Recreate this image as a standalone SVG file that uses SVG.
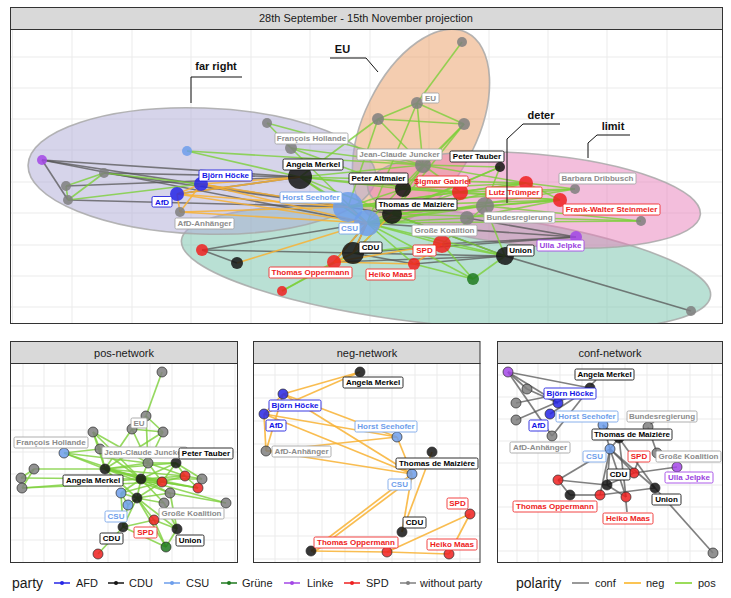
<svg xmlns="http://www.w3.org/2000/svg" width="731" height="598" viewBox="0 0 731 598">
<style>
text{font-family:"Liberation Sans",Arial,sans-serif}
.strip{fill:#d9d9d9;stroke:#333;stroke-width:1}
.st{font-size:11px;fill:#1a1a1a;text-anchor:middle}
.frame{fill:none;stroke:#333;stroke-width:1}
.grid line{stroke:#ebebeb;stroke-width:1}
.ell{stroke:#a8a8a8;stroke-width:1.6;stroke-opacity:.85;fill-opacity:.5}
.ep{stroke:#7ccf3a;stroke-opacity:.8}
.en{stroke:#f8b133;stroke-opacity:.85}
.ec{stroke:#555;stroke-opacity:.75}
.main line{stroke-width:1.6}
.sm line{stroke-width:1.7}
.sm .ec{stroke:#777}
.nA{fill:#2626e6}.nC{fill:#141414}.nS{fill:#6d9eeb}.nG{fill:#1f7a1f}.nL{fill:#a347e6}.nR{fill:#ee2020}.nN{fill:#7f7f7f}
.mn circle{fill-opacity:.85}
.sn circle{fill-opacity:.85;stroke:#2a2a2a;stroke-width:.7}
.L rect{fill:#fff;stroke-width:.9}
.L text{font-size:8px;font-weight:bold;text-anchor:middle}
.k rect{stroke:#1a1a1a}.k text{fill:#000}
.r rect{stroke:#f03030}.r text{fill:#ee1c1c}
.b rect{stroke:#2222e0}.b text{fill:#1515e6}
.c rect{stroke:#7aa7ea}.c text{fill:#6d9eeb}
.p rect{stroke:#a347e6}.p text{fill:#9a3fe0}
.g rect{stroke:#a6a6a6}.g text{fill:#8c8c8c}
.ann{fill:none;stroke:#111;stroke-width:1}
.at{font-size:11px;font-weight:bold;fill:#111;text-anchor:middle}
.lt{font-size:11px;fill:#1a1a1a}
.lh{font-size:14px;fill:#1a1a1a}
</style>
<defs>
<clipPath id="cm"><rect x="11" y="30" width="711" height="293"/></clipPath>
<clipPath id="cp"><rect x="11" y="364" width="226" height="198"/></clipPath>
<clipPath id="cn"><rect x="254" y="364" width="226" height="198"/></clipPath>
<clipPath id="cc"><rect x="498" y="364" width="224" height="198"/></clipPath>
</defs>
<rect width="731" height="598" fill="#fff"/>

<!-- MAIN PANEL -->
<rect class="strip" x="10.5" y="7.5" width="712" height="22"/>
<text class="st" x="366" y="22">28th September - 15th November projection</text>
<g class="grid" clip-path="url(#cm)">
<line x1="12.5" y1="30" x2="12.5" y2="323"/><line x1="72" y1="30" x2="72" y2="323"/><line x1="132" y1="30" x2="132" y2="323"/><line x1="191" y1="30" x2="191" y2="323"/><line x1="251" y1="30" x2="251" y2="323"/><line x1="310" y1="30" x2="310" y2="323"/><line x1="370" y1="30" x2="370" y2="323"/><line x1="429" y1="30" x2="429" y2="323"/><line x1="489" y1="30" x2="489" y2="323"/><line x1="548" y1="30" x2="548" y2="323"/><line x1="607" y1="30" x2="607" y2="323"/><line x1="667" y1="30" x2="667" y2="323"/>
<line x1="11" y1="57" x2="722" y2="57"/><line x1="11" y1="88" x2="722" y2="88"/><line x1="11" y1="119" x2="722" y2="119"/><line x1="11" y1="150" x2="722" y2="150"/><line x1="11" y1="182" x2="722" y2="182"/><line x1="11" y1="213" x2="722" y2="213"/><line x1="11" y1="245" x2="722" y2="245"/><line x1="11" y1="276" x2="722" y2="276"/><line x1="11" y1="307" x2="722" y2="307"/>
</g>
<g id="marks" clip-path="url(#cm)">
<ellipse id="mark-deter" class="ell" cx="0" cy="0" rx="266" ry="57" fill="#73c1a9" transform="translate(446 268) rotate(6)"/>
<ellipse id="mark-eu" class="ell" cx="0" cy="0" rx="104" ry="57" fill="#e99b61" transform="translate(421 126) rotate(-64)"/>
<ellipse id="mark-farright" class="ell" cx="0" cy="0" rx="174" ry="63" fill="#ada9d5" transform="translate(202 171) rotate(2)"/>
<ellipse id="mark-limit" class="ell" cx="0" cy="0" rx="167" ry="46" fill="#e77db9" transform="translate(534 200) rotate(5)"/>
</g>
<g id="main-edges" class="main" clip-path="url(#cm)">
<g class="ec">
<line x1="42" y1="160" x2="300" y2="177"/><line x1="42" y1="160" x2="348" y2="207"/><line x1="42" y1="160" x2="367" y2="223"/><line x1="42" y1="160" x2="68" y2="200"/><line x1="104" y1="173" x2="300" y2="177"/><line x1="104" y1="173" x2="348" y2="207"/><line x1="66" y1="186" x2="300" y2="177"/><line x1="68" y1="200" x2="348" y2="207"/><line x1="177" y1="194" x2="300" y2="177"/><line x1="202" y1="250" x2="367" y2="223"/><line x1="202" y1="250" x2="237" y2="263"/><line x1="202" y1="250" x2="353" y2="253"/><line x1="334" y1="262" x2="367" y2="223"/><line x1="353" y1="253" x2="367" y2="223"/><line x1="353" y1="253" x2="505" y2="256"/><line x1="353" y1="253" x2="576" y2="237"/><line x1="505" y1="256" x2="691" y2="311"/><line x1="367" y1="223" x2="576" y2="237"/><line x1="442" y1="244" x2="576" y2="237"/><line x1="414" y1="264" x2="505" y2="256"/><line x1="392" y1="214" x2="505" y2="256"/><line x1="467" y1="218" x2="576" y2="237"/><line x1="348" y1="207" x2="392" y2="214"/><line x1="334" y1="262" x2="505" y2="256"/><line x1="353" y1="253" x2="414" y2="264"/>
</g>
<g class="ep">
<line x1="462" y1="42" x2="417" y2="103"/><line x1="417" y1="103" x2="378" y2="119"/><line x1="417" y1="103" x2="464" y2="124"/><line x1="378" y1="119" x2="464" y2="124"/><line x1="417" y1="103" x2="423" y2="165"/><line x1="464" y1="124" x2="423" y2="165"/><line x1="378" y1="119" x2="423" y2="165"/><line x1="378" y1="119" x2="300" y2="177"/><line x1="378" y1="119" x2="348" y2="207"/><line x1="417" y1="103" x2="367" y2="223"/><line x1="464" y1="124" x2="403" y2="189"/><line x1="464" y1="124" x2="392" y2="214"/><line x1="267" y1="123" x2="423" y2="165"/><line x1="267" y1="123" x2="291" y2="148"/><line x1="291" y1="148" x2="423" y2="165"/><line x1="291" y1="148" x2="403" y2="189"/><line x1="291" y1="148" x2="367" y2="223"/><line x1="187" y1="151" x2="300" y2="177"/><line x1="187" y1="151" x2="423" y2="165"/><line x1="104" y1="173" x2="66" y2="186"/><line x1="66" y1="186" x2="68" y2="200"/><line x1="104" y1="173" x2="68" y2="200"/><line x1="68" y1="200" x2="201" y2="184"/><line x1="104" y1="173" x2="201" y2="184"/><line x1="300" y1="177" x2="423" y2="165"/><line x1="300" y1="177" x2="403" y2="189"/><line x1="300" y1="177" x2="367" y2="223"/><line x1="300" y1="177" x2="392" y2="214"/><line x1="300" y1="177" x2="460" y2="192"/><line x1="300" y1="177" x2="526" y2="183"/><line x1="423" y1="165" x2="500" y2="167"/><line x1="423" y1="165" x2="526" y2="183"/><line x1="423" y1="165" x2="460" y2="192"/><line x1="423" y1="165" x2="367" y2="223"/><line x1="423" y1="165" x2="392" y2="214"/><line x1="500" y1="167" x2="392" y2="214"/><line x1="500" y1="167" x2="367" y2="223"/><line x1="500" y1="167" x2="485" y2="206"/><line x1="348" y1="207" x2="460" y2="192"/><line x1="348" y1="207" x2="526" y2="183"/><line x1="348" y1="207" x2="560" y2="200"/><line x1="348" y1="207" x2="575" y2="189"/><line x1="367" y1="223" x2="526" y2="183"/><line x1="367" y1="223" x2="575" y2="189"/><line x1="367" y1="223" x2="641" y2="221"/><line x1="367" y1="223" x2="485" y2="206"/><line x1="367" y1="223" x2="467" y2="218"/><line x1="367" y1="223" x2="442" y2="244"/><line x1="367" y1="223" x2="505" y2="256"/><line x1="367" y1="223" x2="473" y2="279"/><line x1="367" y1="223" x2="414" y2="264"/><line x1="403" y1="189" x2="460" y2="192"/><line x1="403" y1="189" x2="526" y2="183"/><line x1="403" y1="189" x2="560" y2="200"/><line x1="392" y1="214" x2="460" y2="192"/><line x1="392" y1="214" x2="485" y2="206"/><line x1="392" y1="214" x2="641" y2="221"/><line x1="392" y1="214" x2="560" y2="200"/><line x1="460" y1="192" x2="526" y2="183"/><line x1="460" y1="192" x2="575" y2="189"/><line x1="460" y1="192" x2="560" y2="200"/><line x1="526" y1="183" x2="575" y2="189"/><line x1="526" y1="183" x2="560" y2="200"/><line x1="485" y1="206" x2="641" y2="221"/><line x1="485" y1="206" x2="560" y2="200"/><line x1="467" y1="218" x2="560" y2="200"/><line x1="442" y1="244" x2="505" y2="256"/><line x1="442" y1="244" x2="473" y2="279"/><line x1="353" y1="253" x2="442" y2="244"/><line x1="353" y1="253" x2="282" y2="291"/><line x1="334" y1="262" x2="282" y2="291"/><line x1="414" y1="264" x2="473" y2="279"/><line x1="505" y1="256" x2="473" y2="279"/><line x1="505" y1="256" x2="485" y2="206"/><line x1="442" y1="244" x2="485" y2="206"/><line x1="392" y1="214" x2="505" y2="256"/><line x1="353" y1="253" x2="392" y2="214"/><line x1="348" y1="207" x2="403" y2="189"/><line x1="300" y1="177" x2="348" y2="207"/>
</g>
<g class="en">
<line x1="300" y1="177" x2="201" y2="184"/><line x1="300" y1="177" x2="177" y2="194"/><line x1="201" y1="184" x2="177" y2="194"/><line x1="201" y1="184" x2="348" y2="207"/><line x1="201" y1="184" x2="367" y2="223"/><line x1="177" y1="194" x2="348" y2="207"/><line x1="177" y1="194" x2="367" y2="223"/><line x1="177" y1="194" x2="180" y2="212"/><line x1="201" y1="184" x2="180" y2="212"/><line x1="180" y1="212" x2="348" y2="207"/><line x1="180" y1="212" x2="367" y2="223"/><line x1="348" y1="207" x2="367" y2="223"/><line x1="392" y1="214" x2="353" y2="253"/><line x1="367" y1="223" x2="353" y2="253"/><line x1="237" y1="263" x2="367" y2="223"/><line x1="353" y1="253" x2="334" y2="262"/><line x1="334" y1="262" x2="414" y2="264"/><line x1="414" y1="264" x2="442" y2="244"/><line x1="334" y1="262" x2="442" y2="244"/><line x1="367" y1="223" x2="334" y2="262"/>
</g>
</g>
<g id="main-nodes" class="mn">
<g id="m-n1"><circle class="nN" cx="462" cy="42" r="5"/></g>
<g id="m-eu"><circle class="nN" cx="417" cy="103" r="6"/></g>
<g id="m-n2"><circle class="nN" cx="378" cy="119" r="6"/></g>
<g id="m-n3"><circle class="nN" cx="464" cy="124" r="6"/></g>
<g id="m-juncker"><circle class="nN" cx="423" cy="165" r="8"/></g>
<g id="m-tauber"><circle class="nC" cx="500" cy="167" r="5"/></g>
<g id="m-n4"><circle class="nN" cx="267" cy="123" r="5"/></g>
<g id="m-hollande"><circle class="nN" cx="291" cy="148" r="6"/></g>
<g id="m-n5"><circle class="nS" cx="187" cy="151" r="5"/></g>
<g id="m-n6"><circle class="nL" cx="42" cy="160" r="5"/></g>
<g id="m-n7"><circle class="nN" cx="104" cy="173" r="5"/></g>
<g id="m-n8"><circle class="nN" cx="66" cy="186" r="5"/></g>
<g id="m-n9"><circle class="nN" cx="68" cy="200" r="5"/></g>
<g id="m-hoecke"><circle class="nA" cx="201" cy="184" r="7"/></g>
<g id="m-afd"><circle class="nA" cx="177" cy="194" r="7"/></g>
<g id="m-afdanh"><circle class="nN" cx="180" cy="212" r="5"/></g>
<g id="m-merkel"><circle class="nC" cx="300" cy="177" r="12"/></g>
<g id="m-seehofer"><circle class="nS" cx="348" cy="207" r="15"/></g>
<g id="m-csu"><circle class="nS" cx="367" cy="223" r="13"/></g>
<g id="m-altmaier"><circle class="nC" cx="403" cy="189" r="8"/></g>
<g id="m-maiziere"><circle class="nC" cx="392" cy="214" r="10"/></g>
<g id="m-gabriel"><circle class="nR" cx="460" cy="192" r="8"/></g>
<g id="m-truemper"><circle class="nR" cx="526" cy="183" r="7"/></g>
<g id="m-steinmeier"><circle class="nR" cx="560" cy="200" r="7"/></g>
<g id="m-dribbusch"><circle class="nN" cx="575" cy="189" r="5"/></g>
<g id="m-n10"><circle class="nN" cx="641" cy="221" r="5"/></g>
<g id="m-bundesreg"><circle class="nN" cx="485" cy="206" r="9"/></g>
<g id="m-groko"><circle class="nN" cx="467" cy="218" r="7"/></g>
<g id="m-spd"><circle class="nR" cx="442" cy="244" r="9"/></g>
<g id="m-maas"><circle class="nR" cx="414" cy="264" r="6"/></g>
<g id="m-union"><circle class="nC" cx="505" cy="256" r="9"/></g>
<g id="m-jelpke"><circle class="nL" cx="576" cy="237" r="6"/></g>
<g id="m-n11"><circle class="nG" cx="473" cy="279" r="6"/></g>
<g id="m-n12"><circle class="nN" cx="691" cy="311" r="5"/></g>
<g id="m-cdu"><circle class="nC" cx="353" cy="253" r="11"/></g>
<g id="m-oppermann"><circle class="nR" cx="334" cy="262" r="7"/></g>
<g id="m-n13"><circle class="nR" cx="202" cy="250" r="6"/></g>
<g id="m-n14"><circle class="nC" cx="237" cy="263" r="6"/></g>
<g id="m-n15"><circle class="nR" cx="282" cy="291" r="5"/></g>
</g>
<g id="main-labels">
<g class="L g"><rect x="422" y="93" width="17" height="10" rx="1.5"/><text x="430.5" y="101">EU</text></g>
<g class="L g"><rect x="275" y="133" width="73" height="11" rx="1.5"/><text x="311.5" y="141.2">François Hollande</text></g>
<g class="L g"><rect x="357" y="149" width="85" height="11" rx="1.5"/><text x="399.5" y="157.2">Jean-Claude Juncker</text></g>
<g class="L k"><rect x="450" y="151" width="54" height="11" rx="1.5"/><text x="477" y="159.2">Peter Tauber</text></g>
<g class="L k"><rect x="283" y="159" width="60" height="11" rx="1.5"/><text x="313" y="167.2">Angela Merkel</text></g>
<g class="L b"><rect x="199" y="170" width="53" height="11" rx="1.5"/><text x="225.5" y="178.2">Björn Höcke</text></g>
<g class="L k"><rect x="349" y="173" width="59" height="11" rx="1.5"/><text x="378.5" y="181.2">Peter Altmaier</text></g>
<g class="L r"><rect x="417" y="176" width="51" height="11" rx="1.5"/><text x="442.5" y="184.2">Sigmar Gabriel</text></g>
<g class="L g"><rect x="559" y="173" width="77" height="11" rx="1.5"/><text x="597.5" y="181.2">Barbara Dribbusch</text></g>
<g class="L r"><rect x="486" y="187" width="56" height="11" rx="1.5"/><text x="514" y="195.2">Lutz Trümper</text></g>
<g class="L c"><rect x="280" y="192" width="62" height="11" rx="1.5"/><text x="311" y="200.2">Horst Seehofer</text></g>
<g class="L b"><rect x="152" y="196.5" width="20" height="10.5" rx="1.5"/><text x="162" y="204.6">AfD</text></g>
<g class="L k"><rect x="376" y="199" width="81" height="11" rx="1.5"/><text x="416.5" y="207.2">Thomas de Maizière</text></g>
<g class="L r"><rect x="563" y="204" width="97" height="11" rx="1.5"/><text x="611.5" y="212.2">Frank-Walter Steinmeier</text></g>
<g class="L g"><rect x="484" y="212" width="71" height="11" rx="1.5"/><text x="519.5" y="220.2">Bundesregierung</text></g>
<g class="L g"><rect x="175" y="218" width="59" height="11" rx="1.5"/><text x="204.5" y="226.2">AfD-Anhänger</text></g>
<g class="L c"><rect x="339" y="223" width="21" height="11" rx="1.5"/><text x="349.5" y="231.2">CSU</text></g>
<g class="L g"><rect x="412" y="225" width="65" height="11" rx="1.5"/><text x="444.5" y="233.2">Große Koalition</text></g>
<g class="L p"><rect x="537" y="240" width="47" height="11" rx="1.5"/><text x="560.5" y="248.2">Ulla Jelpke</text></g>
<g class="L k"><rect x="359" y="242" width="23" height="11" rx="1.5"/><text x="370.5" y="250.2">CDU</text></g>
<g class="L r"><rect x="413" y="245" width="23" height="11" rx="1.5"/><text x="424.5" y="253.2">SPD</text></g>
<g class="L k"><rect x="507" y="245" width="27" height="11" rx="1.5"/><text x="520.5" y="253.2">Union</text></g>
<g class="L r"><rect x="269" y="267" width="83" height="11" rx="1.5"/><text x="310.5" y="275.2">Thomas Oppermann</text></g>
<g class="L r"><rect x="366" y="269" width="49" height="11" rx="1.5"/><text x="390.5" y="277.2">Heiko Maas</text></g>
</g>
<g id="annotations">
<polyline class="ann" points="191,103 191,77 242,77"/>
<text class="at" x="216" y="69.5">far right</text>
<polyline class="ann" points="330,58 366,58 378,72"/>
<text class="at" x="342.5" y="53">EU</text>
<polyline class="ann" points="560,124 523,124 507,139 507,203"/>
<text class="at" x="541" y="119">deter</text>
<polyline class="ann" points="630,135 597,135 588,143 588,158"/>
<text class="at" x="613" y="130">limit</text>
</g>
<rect class="frame" x="10.5" y="29.5" width="712" height="294"/>

<!-- POS PANEL -->
<rect class="strip" x="10.5" y="341.5" width="227" height="22"/>
<text class="st" x="124" y="357">pos-network</text>
<g class="grid" clip-path="url(#cp)">
<line x1="23" y1="364" x2="23" y2="562"/><line x1="44" y1="364" x2="44" y2="562"/><line x1="65" y1="364" x2="65" y2="562"/><line x1="87" y1="364" x2="87" y2="562"/><line x1="108" y1="364" x2="108" y2="562"/><line x1="129" y1="364" x2="129" y2="562"/><line x1="150" y1="364" x2="150" y2="562"/><line x1="172" y1="364" x2="172" y2="562"/><line x1="193" y1="364" x2="193" y2="562"/><line x1="214" y1="364" x2="214" y2="562"/><line x1="235" y1="364" x2="235" y2="562"/>
<line x1="11" y1="386" x2="237" y2="386"/><line x1="11" y1="408" x2="237" y2="408"/><line x1="11" y1="430" x2="237" y2="430"/><line x1="11" y1="452" x2="237" y2="452"/><line x1="11" y1="474" x2="237" y2="474"/><line x1="11" y1="496" x2="237" y2="496"/><line x1="11" y1="518" x2="237" y2="518"/><line x1="11" y1="540" x2="237" y2="540"/>
</g>
<g id="pos-edges" class="sm ep">
<line x1="162" y1="372" x2="146" y2="416"/><line x1="146" y1="416" x2="132" y2="429"/><line x1="146" y1="416" x2="163" y2="432"/><line x1="132" y1="429" x2="163" y2="432"/><line x1="132" y1="429" x2="148" y2="463"/><line x1="146" y1="416" x2="148" y2="463"/><line x1="163" y1="432" x2="148" y2="463"/><line x1="163" y1="432" x2="105" y2="469"/><line x1="132" y1="429" x2="105" y2="469"/><line x1="93" y1="432" x2="100" y2="449"/><line x1="93" y1="432" x2="105" y2="469"/><line x1="93" y1="432" x2="148" y2="463"/><line x1="93" y1="432" x2="141" y2="479"/><line x1="64" y1="453" x2="100" y2="449"/><line x1="64" y1="453" x2="105" y2="469"/><line x1="64" y1="453" x2="148" y2="463"/><line x1="64" y1="453" x2="141" y2="479"/><line x1="100" y1="449" x2="105" y2="469"/><line x1="100" y1="449" x2="141" y2="479"/><line x1="34" y1="469" x2="21" y2="478"/><line x1="34" y1="469" x2="22" y2="488"/><line x1="34" y1="469" x2="105" y2="469"/><line x1="21" y1="478" x2="141" y2="479"/><line x1="22" y1="488" x2="141" y2="479"/><line x1="22" y1="488" x2="162" y2="482"/><line x1="105" y1="469" x2="148" y2="463"/><line x1="105" y1="469" x2="176" y2="463"/><line x1="105" y1="469" x2="141" y2="479"/><line x1="105" y1="469" x2="162" y2="482"/><line x1="105" y1="469" x2="185" y2="476"/><line x1="105" y1="469" x2="198" y2="488"/><line x1="105" y1="469" x2="170" y2="493"/><line x1="105" y1="469" x2="137" y2="498"/><line x1="148" y1="463" x2="176" y2="463"/><line x1="148" y1="463" x2="141" y2="479"/><line x1="148" y1="463" x2="162" y2="482"/><line x1="148" y1="463" x2="185" y2="476"/><line x1="176" y1="463" x2="141" y2="479"/><line x1="176" y1="463" x2="185" y2="476"/><line x1="176" y1="463" x2="162" y2="482"/><line x1="176" y1="463" x2="202" y2="479"/><line x1="141" y1="479" x2="162" y2="482"/><line x1="141" y1="479" x2="185" y2="476"/><line x1="141" y1="479" x2="198" y2="488"/><line x1="141" y1="479" x2="137" y2="498"/><line x1="141" y1="479" x2="170" y2="493"/><line x1="141" y1="479" x2="164" y2="503"/><line x1="141" y1="479" x2="202" y2="479"/><line x1="162" y1="482" x2="185" y2="476"/><line x1="162" y1="482" x2="198" y2="488"/><line x1="162" y1="482" x2="137" y2="498"/><line x1="185" y1="476" x2="202" y2="479"/><line x1="185" y1="476" x2="198" y2="488"/><line x1="121" y1="493" x2="137" y2="498"/><line x1="121" y1="493" x2="141" y2="479"/><line x1="121" y1="493" x2="162" y2="482"/><line x1="137" y1="498" x2="170" y2="493"/><line x1="137" y1="498" x2="164" y2="503"/><line x1="137" y1="498" x2="154" y2="520"/><line x1="137" y1="498" x2="123" y2="527"/><line x1="137" y1="498" x2="177" y2="529"/><line x1="137" y1="498" x2="166" y2="547"/><line x1="170" y1="493" x2="226" y2="503"/><line x1="141" y1="479" x2="226" y2="503"/><line x1="128" y1="505" x2="123" y2="527"/><line x1="128" y1="505" x2="137" y2="498"/><line x1="154" y1="520" x2="123" y2="527"/><line x1="154" y1="520" x2="177" y2="529"/><line x1="154" y1="520" x2="166" y2="547"/><line x1="177" y1="529" x2="166" y2="547"/><line x1="123" y1="527" x2="166" y2="547"/><line x1="123" y1="527" x2="98" y2="554"/><line x1="164" y1="503" x2="177" y2="529"/><line x1="170" y1="493" x2="177" y2="529"/><line x1="121" y1="493" x2="123" y2="527"/><line x1="121" y1="493" x2="128" y2="505"/>
</g>
<g id="pos-nodes" class="sn">
<g id="p-n1"><circle class="nN" cx="162" cy="372" r="5"/></g>
<g id="p-eu"><circle class="nN" cx="146" cy="416" r="5"/></g>
<g id="p-n3"><circle class="nN" cx="132" cy="429" r="5"/></g>
<g id="p-n4"><circle class="nN" cx="163" cy="432" r="5"/></g>
<g id="p-n5"><circle class="nN" cx="93" cy="432" r="5"/></g>
<g id="p-n6"><circle class="nS" cx="64" cy="453" r="5"/></g>
<g id="p-hollande"><circle class="nN" cx="100" cy="449" r="5"/></g>
<g id="p-juncker"><circle class="nN" cx="148" cy="463" r="5"/></g>
<g id="p-tauber"><circle class="nC" cx="176" cy="463" r="5"/></g>
<g id="p-merkel"><circle class="nC" cx="105" cy="469" r="5"/></g>
<g id="p-n11"><circle class="nN" cx="34" cy="469" r="5"/></g>
<g id="p-n12"><circle class="nN" cx="21" cy="478" r="5"/></g>
<g id="p-n13"><circle class="nN" cx="22" cy="488" r="5"/></g>
<g id="p-n14"><circle class="nC" cx="141" cy="479" r="5"/></g>
<g id="p-n15"><circle class="nR" cx="162" cy="482" r="5"/></g>
<g id="p-n16"><circle class="nR" cx="185" cy="476" r="5"/></g>
<g id="p-n17"><circle class="nN" cx="202" cy="479" r="5"/></g>
<g id="p-n18"><circle class="nR" cx="198" cy="488" r="5"/></g>
<g id="p-n19"><circle class="nS" cx="121" cy="493" r="5"/></g>
<g id="p-n20"><circle class="nC" cx="137" cy="498" r="5"/></g>
<g id="p-n21"><circle class="nN" cx="170" cy="493" r="5"/></g>
<g id="p-n22"><circle class="nN" cx="164" cy="503" r="5"/></g>
<g id="p-n23"><circle class="nN" cx="226" cy="503" r="5"/></g>
<g id="p-csu"><circle class="nS" cx="128" cy="505" r="5"/></g>
<g id="p-spd"><circle class="nR" cx="154" cy="520" r="5"/></g>
<g id="p-cdu"><circle class="nC" cx="123" cy="527" r="5"/></g>
<g id="p-union"><circle class="nC" cx="177" cy="529" r="5"/></g>
<g id="p-n28"><circle class="nG" cx="166" cy="547" r="5"/></g>
<g id="p-n29"><circle class="nR" cx="98" cy="554" r="5"/></g>
</g>
<g id="pos-labels">
<g class="L g"><rect x="131" y="418" width="16" height="10" rx="1.5"/><text x="139" y="426">EU</text></g>
<g class="L g"><rect x="14" y="437" width="74" height="11" rx="1.5"/><text x="51" y="445.2">François Hollande</text></g>
<g class="L g"><rect x="102" y="447" width="85" height="11" rx="1.5"/><text x="144.5" y="455.2">Jean-Claude Juncker</text></g>
<g class="L k"><rect x="179" y="448" width="54" height="11" rx="1.5"/><text x="206" y="456.2">Peter Tauber</text></g>
<g class="L k"><rect x="63" y="475" width="60" height="11" rx="1.5"/><text x="93" y="483.2">Angela Merkel</text></g>
<g class="L g"><rect x="159" y="508" width="65" height="11" rx="1.5"/><text x="191.5" y="516.2">Große Koalition</text></g>
<g class="L c"><rect x="105" y="511" width="22" height="11" rx="1.5"/><text x="116" y="519.2">CSU</text></g>
<g class="L r"><rect x="134" y="527" width="23" height="11" rx="1.5"/><text x="145.5" y="535.2">SPD</text></g>
<g class="L k"><rect x="100" y="533" width="23" height="11" rx="1.5"/><text x="111.5" y="541.2">CDU</text></g>
<g class="L k"><rect x="176" y="535" width="28" height="11" rx="1.5"/><text x="190" y="543.2">Union</text></g>
</g>
<rect class="frame" x="10.5" y="363.5" width="227" height="199"/>

<!-- NEG PANEL -->
<rect class="strip" x="253.5" y="341.5" width="226.5" height="22"/>
<text class="st" x="367" y="357">neg-network</text>
<g class="grid" clip-path="url(#cn)">
<line x1="275" y1="364" x2="275" y2="562"/><line x1="298" y1="364" x2="298" y2="562"/><line x1="322" y1="364" x2="322" y2="562"/><line x1="345" y1="364" x2="345" y2="562"/><line x1="368" y1="364" x2="368" y2="562"/><line x1="392" y1="364" x2="392" y2="562"/><line x1="415" y1="364" x2="415" y2="562"/><line x1="437" y1="364" x2="437" y2="562"/><line x1="460" y1="364" x2="460" y2="562"/>
<line x1="254" y1="375" x2="480" y2="375"/><line x1="254" y1="398" x2="480" y2="398"/><line x1="254" y1="421" x2="480" y2="421"/><line x1="254" y1="444" x2="480" y2="444"/><line x1="254" y1="467" x2="480" y2="467"/><line x1="254" y1="490" x2="480" y2="490"/><line x1="254" y1="513" x2="480" y2="513"/><line x1="254" y1="536" x2="480" y2="536"/><line x1="254" y1="559" x2="480" y2="559"/>
</g>
<g id="neg-edges" class="sm en">
<line x1="360" y1="372" x2="283" y2="394"/><line x1="360" y1="372" x2="264" y2="414"/><line x1="283" y1="394" x2="264" y2="414"/><line x1="283" y1="394" x2="397" y2="437"/><line x1="283" y1="394" x2="412" y2="474"/><line x1="264" y1="414" x2="397" y2="437"/><line x1="264" y1="414" x2="412" y2="474"/><line x1="264" y1="414" x2="266" y2="451"/><line x1="283" y1="394" x2="266" y2="451"/><line x1="266" y1="451" x2="397" y2="437"/><line x1="266" y1="451" x2="412" y2="474"/><line x1="397" y1="437" x2="412" y2="474"/><line x1="432" y1="452" x2="402" y2="532"/><line x1="412" y1="474" x2="402" y2="532"/><line x1="412" y1="474" x2="311" y2="551" stroke-width="2.6"/><line x1="414" y1="477" x2="313" y2="553"/><line x1="387" y1="552" x2="449" y2="554"/><line x1="387" y1="552" x2="470" y2="514"/><line x1="449" y1="554" x2="470" y2="514"/><line x1="311" y1="551" x2="387" y2="552"/>
</g>
<g id="neg-nodes" class="sn">
<g id="n-merkel"><circle class="nC" cx="360" cy="372" r="5"/></g>
<g id="n-hoecke"><circle class="nA" cx="283" cy="394" r="5"/></g>
<g id="n-afd"><circle class="nA" cx="264" cy="414" r="5"/></g>
<g id="n-seehofer"><circle class="nS" cx="397" cy="437" r="5"/></g>
<g id="n-afdanh"><circle class="nN" cx="266" cy="451" r="5"/></g>
<g id="n-maiziere"><circle class="nC" cx="432" cy="452" r="5"/></g>
<g id="n-csu"><circle class="nS" cx="412" cy="474" r="5"/></g>
<g id="n-spd"><circle class="nR" cx="470" cy="514" r="5"/></g>
<g id="n-cdu"><circle class="nC" cx="402" cy="532" r="5"/></g>
<g id="n-n10"><circle class="nC" cx="311" cy="551" r="5"/></g>
<g id="n-oppermann"><circle class="nR" cx="387" cy="552" r="5"/></g>
<g id="n-maas"><circle class="nR" cx="449" cy="554" r="5"/></g>
</g>
<g id="neg-labels">
<g class="L k"><rect x="343" y="377" width="60" height="11" rx="1.5"/><text x="373" y="385.2">Angela Merkel</text></g>
<g class="L b"><rect x="269" y="400" width="52" height="11" rx="1.5"/><text x="295" y="408.2">Björn Höcke</text></g>
<g class="L b"><rect x="266" y="420" width="20" height="11" rx="1.5"/><text x="276" y="428.2">AfD</text></g>
<g class="L c"><rect x="355" y="421" width="62" height="11" rx="1.5"/><text x="386" y="429.2">Horst Seehofer</text></g>
<g class="L g"><rect x="272" y="446" width="59" height="11" rx="1.5"/><text x="301.5" y="454.2">AfD-Anhänger</text></g>
<g class="L k"><rect x="396" y="458" width="82" height="11" rx="1.5"/><text x="437" y="466.2">Thomas de Maizière</text></g>
<g class="L c"><rect x="388" y="479" width="23" height="11" rx="1.5"/><text x="399.5" y="487.2">CSU</text></g>
<g class="L r"><rect x="447" y="498" width="21" height="11" rx="1.5"/><text x="457.5" y="506.2">SPD</text></g>
<g class="L k"><rect x="403" y="517" width="23" height="11" rx="1.5"/><text x="414.5" y="525.2">CDU</text></g>
<g class="L r"><rect x="314" y="537" width="84" height="11" rx="1.5"/><text x="356" y="545.2">Thomas Oppermann</text></g>
<g class="L r"><rect x="427" y="539" width="50" height="11" rx="1.5"/><text x="452" y="547.2">Heiko Maas</text></g>
</g>
<rect class="frame" x="253.5" y="363.5" width="226.5" height="199"/>

<!-- CONF PANEL -->
<rect class="strip" x="497.5" y="341.5" width="225" height="22"/>
<text class="st" x="610" y="357">conf-network</text>
<g class="grid" clip-path="url(#cc)">
<line x1="517" y1="364" x2="517" y2="562"/><line x1="538" y1="364" x2="538" y2="562"/><line x1="560" y1="364" x2="560" y2="562"/><line x1="582" y1="364" x2="582" y2="562"/><line x1="603" y1="364" x2="603" y2="562"/><line x1="625" y1="364" x2="625" y2="562"/><line x1="647" y1="364" x2="647" y2="562"/><line x1="668" y1="364" x2="668" y2="562"/><line x1="690" y1="364" x2="690" y2="562"/><line x1="712" y1="364" x2="712" y2="562"/>
<line x1="498" y1="375" x2="722" y2="375"/><line x1="498" y1="397" x2="722" y2="397"/><line x1="498" y1="419" x2="722" y2="419"/><line x1="498" y1="441" x2="722" y2="441"/><line x1="498" y1="463" x2="722" y2="463"/><line x1="498" y1="485" x2="722" y2="485"/><line x1="498" y1="507" x2="722" y2="507"/><line x1="498" y1="529" x2="722" y2="529"/><line x1="498" y1="551" x2="722" y2="551"/>
</g>
<g id="conf-edges" class="sm ec">
<line x1="508" y1="372" x2="590" y2="388"/><line x1="508" y1="372" x2="527" y2="389"/><line x1="508" y1="372" x2="558" y2="403"/><line x1="508" y1="372" x2="552" y2="436"/><line x1="590" y1="388" x2="516" y2="403"/><line x1="590" y1="388" x2="516" y2="420"/><line x1="590" y1="388" x2="552" y2="436"/><line x1="590" y1="388" x2="550" y2="414"/><line x1="527" y1="389" x2="558" y2="403"/><line x1="603" y1="425" x2="610" y2="449"/><line x1="603" y1="425" x2="619" y2="438"/><line x1="619" y1="438" x2="610" y2="449"/><line x1="648" y1="427" x2="657" y2="453"/><line x1="610" y1="449" x2="558" y2="480"/><line x1="610" y1="449" x2="607" y2="485"/><line x1="610" y1="449" x2="634" y2="473"/><line x1="610" y1="449" x2="626" y2="497"/><line x1="610" y1="449" x2="655" y2="488"/><line x1="610" y1="449" x2="600" y2="495"/><line x1="558" y1="480" x2="570" y2="495"/><line x1="558" y1="480" x2="607" y2="485"/><line x1="600" y1="495" x2="655" y2="488"/><line x1="607" y1="485" x2="626" y2="497"/><line x1="634" y1="473" x2="677" y2="467"/><line x1="655" y1="488" x2="713" y2="553"/><line x1="619" y1="438" x2="655" y2="488"/><line x1="619" y1="438" x2="626" y2="497"/><line x1="607" y1="485" x2="634" y2="473"/><line x1="570" y1="495" x2="600" y2="495"/>
<line x1="596" y1="380" x2="591" y2="385"/><line x1="638" y1="462" x2="635" y2="469"/><line x1="627" y1="512" x2="626" y2="502"/><line x1="654" y1="422" x2="650" y2="424"/>
</g>
<g id="conf-nodes" class="sn">
<g id="c-n1"><circle class="nL" cx="508" cy="372" r="5"/></g>
<g id="c-merkel"><circle class="nC" cx="590" cy="388" r="5"/></g>
<g id="c-n3"><circle class="nN" cx="527" cy="389" r="5"/></g>
<g id="c-hoecke"><circle class="nA" cx="558" cy="403" r="5"/></g>
<g id="c-n5"><circle class="nN" cx="516" cy="403" r="5"/></g>
<g id="c-afd"><circle class="nA" cx="550" cy="414" r="5"/></g>
<g id="c-n7"><circle class="nN" cx="516" cy="420" r="5"/></g>
<g id="c-seehofer"><circle class="nS" cx="603" cy="425" r="5"/></g>
<g id="c-bundesreg"><circle class="nN" cx="648" cy="427" r="5"/></g>
<g id="c-afdanh"><circle class="nN" cx="552" cy="436" r="5"/></g>
<g id="c-maiziere"><circle class="nC" cx="619" cy="438" r="5"/></g>
<g id="c-csu"><circle class="nS" cx="610" cy="449" r="5"/></g>
<g id="c-groko"><circle class="nN" cx="657" cy="453" r="5"/></g>
<g id="c-jelpke"><circle class="nL" cx="677" cy="467" r="5"/></g>
<g id="c-spd"><circle class="nR" cx="634" cy="473" r="5"/></g>
<g id="c-n16"><circle class="nR" cx="558" cy="480" r="5"/></g>
<g id="c-cdu"><circle class="nC" cx="607" cy="485" r="5"/></g>
<g id="c-union"><circle class="nC" cx="655" cy="488" r="5"/></g>
<g id="c-n19"><circle class="nC" cx="570" cy="495" r="5"/></g>
<g id="c-oppermann"><circle class="nR" cx="600" cy="495" r="5"/></g>
<g id="c-maas"><circle class="nR" cx="626" cy="497" r="5"/></g>
<g id="c-n22"><circle class="nN" cx="713" cy="553" r="5"/></g>
</g>
<g id="conf-labels">
<g class="L k"><rect x="575" y="369" width="59" height="11" rx="1.5"/><text x="604.5" y="377.2">Angela Merkel</text></g>
<g class="L b"><rect x="544" y="388" width="52" height="11" rx="1.5"/><text x="570" y="396.2">Björn Höcke</text></g>
<g class="L c"><rect x="556" y="411" width="62" height="11" rx="1.5"/><text x="587" y="419.2">Horst Seehofer</text></g>
<g class="L g"><rect x="627" y="411" width="70" height="11" rx="1.5"/><text x="662" y="419.2">Bundesregierung</text></g>
<g class="L b"><rect x="529" y="420" width="19" height="11" rx="1.5"/><text x="538.5" y="428.2">AfD</text></g>
<g class="L k"><rect x="592" y="429" width="80" height="11" rx="1.5"/><text x="632" y="437.2">Thomas de Maizière</text></g>
<g class="L g"><rect x="510" y="442" width="60" height="11" rx="1.5"/><text x="540" y="450.2">AfD-Anhänger</text></g>
<g class="L c"><rect x="583" y="451" width="23" height="11" rx="1.5"/><text x="594.5" y="459.2">CSU</text></g>
<g class="L r"><rect x="628" y="451" width="22" height="11" rx="1.5"/><text x="639" y="459.2">SPD</text></g>
<g class="L g"><rect x="656" y="451" width="65" height="11" rx="1.5"/><text x="688.5" y="459.2">Große Koalition</text></g>
<g class="L k"><rect x="607" y="469" width="23" height="11" rx="1.5"/><text x="618.5" y="477.2">CDU</text></g>
<g class="L p"><rect x="665" y="472" width="48" height="11" rx="1.5"/><text x="689" y="480.2">Ulla Jelpke</text></g>
<g class="L k"><rect x="652" y="494" width="29" height="11" rx="1.5"/><text x="666.5" y="502.2">Union</text></g>
<g class="L r"><rect x="513" y="501" width="84" height="11" rx="1.5"/><text x="555" y="509.2">Thomas Oppermann</text></g>
<g class="L r"><rect x="603" y="513" width="50" height="11" rx="1.5"/><text x="628" y="521.2">Heiko Maas</text></g>
</g>
<rect class="frame" x="497.5" y="363.5" width="225" height="199"/>

<!-- LEGEND -->
<g id="legend">
<text class="lh" x="12" y="588">party</text>
<g stroke-width="1.5">
<line x1="54" y1="583" x2="70" y2="583" stroke="#2626e6"/><circle cx="62" cy="583" r="2" fill="#2626e6"/>
<line x1="108" y1="583" x2="124" y2="583" stroke="#141414"/><circle cx="116" cy="583" r="2" fill="#141414"/>
<line x1="164" y1="583" x2="180" y2="583" stroke="#6d9eeb"/><circle cx="172" cy="583" r="2" fill="#6d9eeb"/>
<line x1="221" y1="583" x2="237" y2="583" stroke="#1f7a1f"/><circle cx="229" cy="583" r="2" fill="#1f7a1f"/>
<line x1="284" y1="583" x2="300" y2="583" stroke="#a347e6"/><circle cx="292" cy="583" r="2" fill="#a347e6"/>
<line x1="344" y1="583" x2="360" y2="583" stroke="#ee2020"/><circle cx="352" cy="583" r="2" fill="#ee2020"/>
<line x1="400" y1="583" x2="416" y2="583" stroke="#7f7f7f"/><circle cx="408" cy="583" r="2" fill="#7f7f7f"/>
</g>
<text class="lt" x="76" y="587">AFD</text>
<text class="lt" x="129" y="587">CDU</text>
<text class="lt" x="186" y="587">CSU</text>
<text class="lt" x="242" y="587">Grüne</text>
<text class="lt" x="307" y="587">Linke</text>
<text class="lt" x="366" y="587">SPD</text>
<text class="lt" x="420" y="587">without party</text>
<text class="lh" x="516" y="588">polarity</text>
<line x1="572" y1="583" x2="589" y2="583" stroke="#999" stroke-width="2"/>
<line x1="624" y1="583" x2="641" y2="583" stroke="#fbc454" stroke-width="2"/>
<line x1="675" y1="583" x2="692" y2="583" stroke="#9bdc5a" stroke-width="2"/>
<text class="lt" x="595" y="587">conf</text>
<text class="lt" x="646" y="587">neg</text>
<text class="lt" x="698" y="587">pos</text>
</g>
</svg>
